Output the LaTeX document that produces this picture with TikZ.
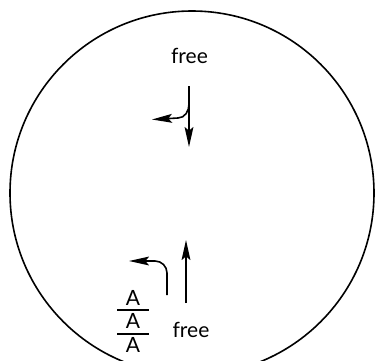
\documentclass[tikz,border=0pt]{standalone}
\usepackage{fontspec}
\setmainfont{Lato}
\usepackage{tikz}
\usetikzlibrary{arrows.meta}

\begin{document}
\begin{tikzpicture}[
  x=0.5pt, y=-0.5pt,
  font=\fontsize{10.5}{12}\selectfont,
  lbl/.style={anchor=base,inner sep=0pt},
  ar/.style={-{Stealth[length=10pt,width=4.4pt,inset=1.8pt]},line width=0.8pt},
  bar/.style={line width=0.8pt}
]
\useasboundingbox (0,0) rectangle (381,360);
% --- outer circle, cut by the lower edge ---
\begin{scope}
  \clip (0,0) rectangle (381,360);
  \draw[line width=0.8pt] (192,193) circle[radius=182];
\end{scope}
% --- upper pair ---
\node[lbl] (freeT) at (189.5,63) {free};
\coordinate (tA) at (189,86);
\coordinate (tB) at (189,147);
\coordinate (tC) at (189,104);
\coordinate (tD) at (152,119.5);
\draw[ar] (tA) -- (tB);
\draw[ar] (tC) to[out=-90,in=0] (178,118) -- (tD);
% --- lower pair ---
\coordinate (bA) at (186,303);
\coordinate (bB) at (186,240);
\coordinate (bC) at (167,295);
\coordinate (bD) at (129,261);
\draw[ar] (bA) -- (bB);
\draw[ar] (bC) -- (167,273) to[out=90,in=0] (155,261) -- (bD);
% --- stacked A's ---
\node[lbl] (a1) at (133,305) {A};
\node[lbl] (a2) at (133,328) {A};
\node[lbl] (a3) at (133,352) {A};
\draw[bar] (117,310) -- (149,310);
\draw[bar] (117,334) -- (149,334);
\node[lbl] (freeB) at (191,337) {free};
\end{tikzpicture}
\end{document}
